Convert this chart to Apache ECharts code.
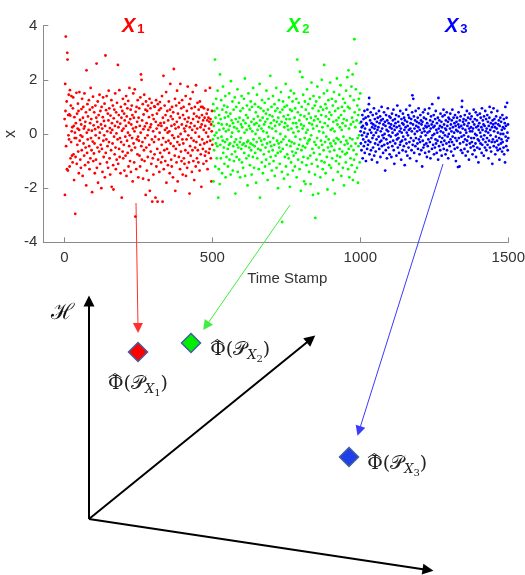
<!DOCTYPE html>
<html><head><meta charset="utf-8">
<script src="https://cdn.jsdelivr.net/npm/echarts@6/dist/echarts.min.js"></script>
<style>html,body{margin:0;padding:0;background:#fff}#c{width:525px;height:575px}</style>
</head><body><div id="c"></div>
<script>
// ---- scatter data: time stamps 1..1500, three segments of 500 samples ----
const x1Values = [
0.55,-2.25,1.85,0.85,3.6,-0.45,0.3,1.2,-1.3,3.0,2.75,-1.35,0.7,-0.05,1.45,-0.2,0.72,-1.2,1.62,0.68,-0.9,1.05,-0.3,1.4,0.1,
-0.8,0.25,-1.05,0.95,1.35,-0.75,0.3,-1.7,0.62,-0.15,0.05,-2.95,-0.85,0.4,-0.15,1.52,-1.1,0.75,-0.4,0.2,1.12,-0.65,0.85,-1.45,0.15,
1.55,-0.25,0.52,-0.95,-0.05,-1.25,0.35,0.92,-0.6,1.3,-0.1,-1.55,0.6,1.0,-0.35,0.2,-0.8,1.5,0.28,-1.15,0.45,-0.5,0.8,-1.9,2.35,
0.05,-0.7,1.1,-0.2,0.65,-1.05,0.15,1.25,-0.45,-1.3,0.9,0.4,-0.9,1.7,-0.15,0.55,-0.6,0.12,-2.15,0.98,-0.28,1.38,-1.0,0.32,-0.72,
0.8,-0.35,-1.45,0.18,1.05,-0.05,-0.95,0.6,2.6,-1.25,0.45,-0.5,1.2,-1.8,0.25,0.7,-0.15,-0.65,1.45,0.05,-1.1,0.85,-0.4,0.35,-2.0,
1.0,-0.55,0.2,-1.4,0.62,1.35,-0.25,-0.85,0.48,-0.05,1.12,-1.6,0.3,2.9,-0.7,0.88,-0.2,1.4,-1.05,0.1,-0.45,0.75,-1.25,0.5,1.6,
-0.3,0.95,-0.9,0.22,-1.5,0.68,0.05,-0.6,1.25,-1.95,0.4,0.15,-0.35,1.05,-1.15,-2.05,0.58,-0.1,0.9,-0.75,0.3,1.5,-0.5,-1.3,0.8,
0.02,-0.95,1.15,0.45,-0.2,2.55,-1.1,0.25,0.7,-0.55,1.62,-0.85,-0.15,0.38,-1.45,1.0,-0.3,0.6,-2.35,0.12,0.85,-0.65,1.3,-0.9,0.2,
-0.4,0.75,-1.35,0.5,1.1,-0.1,-0.8,0.3,1.4,-1.55,0.65,-0.25,0.95,-0.7,0.05,1.22,-1.2,0.42,-0.45,1.7,-0.05,-1.0,0.55,0.9,-1.4,
0.35,-0.6,1.05,-0.15,0.7,-1.75,0.2,1.5,-0.35,0.6,-1.05,0.1,1.65,-0.5,-3.05,0.82,0.25,-1.3,1.0,-0.2,0.45,-0.75,1.25,-0.1,-1.6,
0.6,-0.25,0.95,-0.8,0.3,-1.2,1.35,0.05,2.2,-0.45,2.0,-0.95,0.5,-0.3,1.1,-1.65,0.18,0.72,-0.6,1.45,-1.0,0.28,-0.15,0.9,-2.25,
1.2,-0.5,0.4,-1.35,0.85,-0.05,-0.85,1.05,0.15,-1.7,0.62,-0.4,1.3,-2.1,0.25,0.95,-0.65,0.35,-1.1,1.15,-0.2,-2.5,0.7,-0.9,0.1,
-1.5,0.55,-0.3,1.02,-0.75,1.0,-0.1,-2.35,0.45,1.25,-1.2,0.2,0.75,-0.55,-2.5,1.1,-0.95,0.32,-0.2,0.88,-1.4,0.05,1.18,-0.7,0.4,
0.95,-1.05,0.3,-0.4,1.4,-0.85,-2.5,0.6,-0.15,2.15,-1.3,0.42,-0.6,1.05,0.15,-1.0,0.7,-0.3,1.55,-1.8,0.22,-0.55,0.85,0.05,-1.15,
0.5,-0.25,1.2,-0.7,0.1,-1.45,0.9,1.85,-0.35,0.65,-0.95,0.3,-1.2,1.0,-0.05,0.55,-1.6,0.8,-0.45,2.4,-0.15,0.35,-0.8,1.3,-2.1,
0.2,-0.55,1.05,-1.05,0.45,1.6,-0.3,-1.75,0.75,-0.1,0.25,-0.85,1.15,-0.4,0.6,-1.3,1.85,0.0,-0.65,0.95,-1.0,0.35,1.25,-0.2,-1.5,
0.7,-0.35,1.0,-0.9,0.2,-1.1,0.55,0.1,-0.6,1.4,-1.55,0.3,-0.2,0.85,-1.25,0.45,1.75,-0.7,-0.05,0.6,-1.05,1.1,-2.2,0.25,-0.45,
1.3,-0.8,0.4,-0.15,0.95,-1.4,0.15,-0.6,1.55,0.55,-1.0,-0.25,0.75,-1.7,0.3,1.0,-0.5,0.05,-1.2,1.8,-0.3,0.65,-0.9,0.2,1.15,
-0.6,0.45,-1.05,0.9,-0.1,0.6,-1.35,1.2,-0.4,0.25,-0.75,1.0,-1.95,0.35,0.7,-0.2,1.0,-0.55,0.5,-1.1,0.15,0.95,-0.35,0.6,-0.8,
0.3,1.6,-0.65,0.05,-1.0,0.75,-0.3,0.5,-1.3,0.9,-0.1,0.6,-0.7,0.2,0.45,-0.55,1.7,-0.25,0.55,-0.9,0.35,-1.75,0.1,0.85,-0.4
];
const x2Values = [
0.45,-0.2,1.1,-1.75,0.3,-0.6,0.85,-0.05,2.75,-1.2,0.6,-0.35,1.3,0.05,-0.9,0.95,-0.45,1.6,-0.15,-2.35,0.4,-1.3,0.7,0.15,-1.85,
2.2,-0.4,0.55,-0.9,1.25,-0.1,0.35,-1.45,0.9,-0.25,1.75,-0.7,0.2,-0.5,1.05,-1.1,0.6,-0.3,1.4,-1.6,0.1,0.8,-0.85,0.35,-0.2,
1.0,-0.55,-1.2,0.65,0.15,-0.4,1.5,-0.95,0.3,-0.35,0.75,-1.5,1.95,-0.1,0.5,-0.75,0.05,1.2,-1.35,0.4,-0.45,0.9,-1.0,0.25,-0.3,
1.35,-0.65,-2.2,0.55,-0.2,1.0,-0.85,0.2,-0.4,1.65,-1.4,0.45,-0.5,0.1,1.15,-0.95,0.6,-0.3,-1.6,0.85,-0.15,0.35,-0.55,1.4,-1.05,
0.25,-0.4,0.95,-1.25,0.5,-0.35,1.3,-0.7,0.05,2.05,-1.55,0.4,-0.45,0.7,-0.9,0.15,1.05,-0.3,-1.9,0.6,-0.25,1.5,-0.8,0.3,-0.5,
0.9,-1.15,0.2,-0.35,1.2,-0.6,0.45,-1.5,1.0,0.1,-0.4,-0.85,1.7,-0.2,0.55,-1.25,0.35,-0.45,1.1,-0.7,0.0,0.8,-1.8,0.4,-0.3,
1.45,-0.9,0.15,0.65,-0.55,1.0,-1.3,0.3,-0.15,1.85,-2.35,0.5,-0.6,0.95,-0.25,0.2,-1.05,1.25,-0.4,0.6,-1.45,0.1,0.85,-0.75,0.35,
-0.2,1.15,-1.2,0.45,-0.5,0.75,-0.95,1.6,0.05,-0.35,0.55,-1.7,0.9,-0.1,1.3,-0.65,0.25,-1.1,0.7,-0.3,2.15,-0.85,0.4,-0.45,1.0,
-1.35,0.2,0.65,-0.6,1.4,-0.15,-1.0,0.5,-0.4,1.1,-1.55,0.3,0.85,-0.8,0.1,1.7,-1.25,0.45,-0.25,0.95,-0.7,-2.0,0.6,-0.35,1.25,
-0.5,0.35,-1.1,0.8,0.0,-0.65,1.55,-0.3,0.45,-1.4,-3.25,0.9,-0.55,1.2,-0.2,0.65,-1.65,0.25,1.0,-0.85,0.4,-0.1,1.85,-1.2,0.55,
-0.4,1.05,-0.75,0.3,-1.5,0.7,0.15,-0.9,1.35,-0.25,0.55,-1.95,0.9,-0.45,1.6,-1.05,0.2,-0.3,0.85,-0.65,1.2,-1.35,0.4,0.05,-0.8,
1.5,-0.35,0.6,-1.2,0.95,-0.1,-0.7,0.4,1.3,-1.6,0.25,2.75,-0.55,0.8,-0.95,0.1,1.15,-0.4,0.5,-1.3,2.3,-0.2,0.7,-2.1,0.35,
-0.6,1.0,-1.05,2.1,0.2,-0.45,1.45,-0.85,0.3,-1.75,0.65,-0.15,1.2,-0.5,-1.85,0.9,0.05,-1.15,0.55,1.65,-0.35,0.15,-0.9,1.1,-0.25,
0.75,-1.4,0.4,-0.2,1.3,-0.8,-1.85,0.6,-0.05,1.9,-1.1,0.35,-0.55,0.95,-2.25,0.2,1.4,-0.7,0.5,-0.3,1.05,-1.5,-3.1,0.65,-0.4,
1.2,-0.95,0.3,-0.15,1.75,-1.2,0.55,-2.2,0.85,-0.5,0.1,1.35,-0.75,0.45,-1.6,1.0,-0.25,0.7,-1.0,2.0,-0.4,0.25,-1.3,0.9,0.05,
-0.6,1.5,2.55,-1.05,0.4,-0.3,1.1,-1.45,0.65,-0.1,0.95,-0.85,1.6,-2.05,0.3,-0.5,1.25,-0.2,0.55,-1.15,0.8,-0.65,1.9,-0.35,0.15,
-1.25,0.7,-0.45,1.3,-0.9,0.2,1.05,-1.7,0.45,-0.25,1.55,-0.6,0.1,-2.2,0.85,-0.35,1.2,-1.0,0.5,-0.15,2.05,-0.8,0.35,-1.4,0.95,
-0.2,0.6,-1.1,1.45,-0.55,0.25,-0.85,1.8,-0.3,0.7,-1.55,0.15,1.0,-0.65,0.4,-1.25,1.3,-0.1,0.55,-1.9,0.85,-0.4,1.15,-0.75,0.3,
-1.05,1.6,-0.25,0.5,-0.7,2.1,-0.35,1.0,-1.3,2.35,-0.55,0.2,-1.6,0.95,-0.15,1.4,-0.9,0.35,-0.45,1.75,-1.15,0.6,-0.2,2.2,-1.7,
0.45,-0.6,1.25,-0.95,3.5,0.8,-1.4,0.25,-0.35,1.65,2.6,-0.75,0.5,-1.25,1.05,-0.15,-1.8,0.7,-0.45,1.3,-0.05,0.9,-1.05,0.4,1.5
];
const x3Values = [
0.1,-0.35,0.45,-0.6,0.25,-0.05,0.7,-0.9,0.3,-0.2,0.55,-0.45,0.05,0.85,-0.7,0.2,-0.3,0.6,-1.0,0.4,-0.1,0.35,-0.55,0.9,0.0,
-0.4,0.65,-0.25,1.1,1.33,-0.75,0.15,0.5,-0.3,0.8,-0.6,0.05,0.4,-0.95,0.25,-0.15,0.7,-0.5,0.35,-0.05,0.95,-0.8,0.2,0.55,-0.35,
0.3,-0.65,0.05,0.75,-0.2,0.45,-1.05,0.15,0.6,-0.4,0.25,-0.1,0.85,-0.55,0.4,-0.3,0.65,-0.85,0.1,0.5,-0.25,1.0,-0.45,0.2,-0.05,
0.55,-0.7,0.35,-0.15,0.8,-0.4,0.0,0.45,-1.35,0.3,-0.6,0.7,-0.2,0.15,-0.9,0.5,-0.35,0.95,0.1,-0.5,0.4,-0.05,0.65,-0.75,0.25,
-0.3,0.6,-0.1,0.35,-0.85,0.2,0.75,-0.45,0.05,0.5,-0.25,0.9,-0.6,0.3,-1.1,0.15,0.55,-0.35,0.4,-0.05,0.7,-0.8,0.25,-0.2,1.05,
0.0,-0.5,0.45,-0.15,0.65,-0.7,0.3,0.1,-0.4,0.85,-0.3,0.2,-0.95,0.55,0.05,-0.25,0.4,-0.6,0.75,-0.1,0.35,-0.45,0.6,0.15,-1.15,
0.5,-0.2,0.25,-0.65,0.9,-0.35,0.05,0.45,-0.8,0.3,-0.05,0.7,-0.5,0.15,0.6,-0.3,1.05,-0.9,0.2,0.4,-0.15,0.55,-0.6,0.1,0.8,
1.43,-0.4,0.35,1.3,-0.25,0.65,-0.7,0.2,0.0,0.5,-0.45,0.85,-0.15,0.3,-1.0,0.45,0.1,-0.35,0.6,-0.55,0.25,0.95,-0.2,0.4,-0.75,
0.15,-0.3,0.7,-0.1,0.5,-0.6,0.35,0.05,-1.2,0.45,-0.25,0.8,-0.5,0.2,0.6,-0.4,0.1,0.9,-0.7,0.3,-0.05,0.55,-0.35,0.25,-0.85,
0.4,0.05,-0.45,0.75,-0.2,0.3,-0.65,0.95,0.1,-0.3,0.5,-0.9,0.2,0.65,-0.15,0.35,-0.55,1.1,-0.05,0.45,-0.4,0.25,0.7,-0.75,0.0,
0.3,-0.5,0.55,-0.2,0.85,-0.35,0.15,-0.7,0.4,0.05,-0.25,0.6,-0.95,1.33,0.2,-0.45,0.5,-0.1,0.3,-0.6,0.75,0.1,-0.3,0.45,-0.8,
0.25,-0.15,0.65,-0.4,0.05,0.9,-0.55,0.35,-0.25,0.7,-0.05,0.2,-0.75,0.5,0.15,-0.35,0.8,-0.6,0.3,-0.1,0.45,-0.9,0.6,0.0,-0.3,
0.55,-0.45,0.2,0.75,-0.2,0.35,-0.65,0.1,0.5,-0.3,0.9,-0.1,0.25,-0.8,0.6,-0.4,0.05,0.4,-0.55,0.7,-0.15,0.3,-1.0,0.15,0.45,
-0.25,0.6,-0.5,0.1,-1.22,0.35,0.8,-0.15,0.25,-1.2,0.5,-0.35,0.05,0.65,-0.6,0.3,-0.1,1.0,1.22,-0.7,0.2,0.45,-0.3,0.55,-0.05,
0.35,-0.55,0.7,-0.2,0.15,-0.8,0.5,0.05,-0.4,0.85,-0.25,0.3,-0.65,0.6,-0.1,0.4,-0.95,0.2,0.75,-0.35,0.1,0.55,-0.5,0.25,-0.15,
0.65,-0.3,0.1,-0.75,0.45,0.2,-0.45,0.9,-0.15,0.35,-0.6,0.55,0.0,-0.35,0.8,-0.85,0.25,-0.05,0.5,-0.5,0.7,-0.2,0.3,-1.05,0.15,
-0.25,0.4,-0.55,0.75,0.05,-0.35,0.6,-0.1,0.25,-0.7,0.95,-0.4,0.15,0.5,-0.2,0.35,-0.8,0.65,-0.05,0.3,-0.5,0.85,-0.3,0.1,0.55,
-0.6,0.2,-0.15,0.7,-0.4,0.45,0.05,-0.9,0.3,-0.25,0.6,1.0,-0.5,0.15,-0.05,0.4,-0.65,0.8,-0.3,0.25,-1.1,0.5,-0.2,0.35,0.95,
-0.45,0.1,0.55,-0.3,0.25,-0.75,0.4,-0.1,0.65,-0.5,0.2,-0.25,0.85,-0.6,0.05,0.35,-0.4,0.5,-0.15,-0.95,0.3,-0.55,0.6,0.0,-0.35,
0.45,-0.2,0.15,-0.65,0.7,-0.3,0.25,0.0,-0.5,0.55,-0.75,0.2,0.4,-1.05,1.0,-0.1,0.3,-0.45,0.6,-0.25,1.15,0.05,-0.6,0.35,-0.15
];
const segmentStarts = [0, 500, 1000];
const segmentLength = 500;
const segmentSubscripts = ['1', '2', '3'];
const xTickValues = [0, 500, 1000, 1500];
const yTickValues = [-4, -2, 0, 2, 4];

// ---- lower diagram, in page units of an overlay coordinate system ----
const diagramOrigin = [89, 519];
const diagramAxisEnds = [[89, 301], [311, 339], [428, 570]];
const embeddingPoints = [[138, 352], [191, 343], [349, 457]];
const mappingArrowStarts = [[136, 203], [290, 205], [443, 164]];
const mappingArrowEnds = [[138, 328], [206, 326], [359, 431]];

// ---- styles ----
const segColors = ['#ff0000', '#00ff00', '#0000ff'];
const arrowColors = ['#ff3030', '#40ee40', '#3a3aff'];
const diamondColors = ['#ff0000', '#00ee00', '#1f3fe8'];
const labelLayout = [
  {position: 'bottom', distance: 5, offset: [0, 0], align: 'center'},
  {position: 'right', distance: 9, offset: [0, 6], align: 'left'},
  {position: 'right', distance: 8, offset: [0, 6], align: 'left'}
];

const segmentValues = [x1Values, x2Values, x3Values];
const scatterSeries = segmentValues.map((vals, k) => ({
  type: 'scatter', xAxisIndex: 0, yAxisIndex: 0, silent: true,
  symbolSize: 2.8, itemStyle: {color: segColors[k], opacity: 1},
  data: vals.map((v, i) => [segmentStarts[k] + (i + 1) * segmentLength / vals.length, v])
}));

const ink = '#222';
const phiRich = {
  hat: {fontFamily: 'Noto Sans CJK SC', fontSize: 14, color: ink, lineHeight: 7, align: 'left', padding: [0, 0, 0, 0]},
  f: {fontFamily: 'DejaVu Serif', fontSize: 19, color: ink, verticalAlign: 'bottom', padding: [0, 0, 5, 0]},
  p: {fontFamily: 'DejaVu Serif', fontSize: 19, color: ink, verticalAlign: 'bottom', padding: [0, 0, 5, 0]},
  x: {fontFamily: 'DejaVu Serif', fontSize: 13, color: ink, verticalAlign: 'bottom', padding: [0, 0, 2, 0], fontStyle: 'italic'},
  s: {fontFamily: 'DejaVu Serif', fontSize: 10, color: ink, verticalAlign: 'bottom', padding: [0, 0, 0, 0]}
};

const option = {
  animation: false,
  backgroundColor: '#ffffff',
  title: segmentSubscripts.map((sub, k) => ({
    text: '{x|X}{s|' + sub + '}',
    left: [122, 287, 445][k], top: 16, padding: 0,
    textStyle: {
      rich: {
        x: {fontFamily: 'Liberation Sans', fontStyle: 'italic', fontSize: 20, color: segColors[k], verticalAlign: 'bottom'},
        s: {fontFamily: 'Liberation Sans', fontSize: 13, color: segColors[k], verticalAlign: 'bottom', padding: [0, 0, 0, 2]}
      }
    }
  })),
  grid: [
    {left: 43.3, right: 16.7, top: 25.7, bottom: 332.7, containLabel: false, outerBoundsMode: 'none'},
    {left: 0, right: 0, top: 0, bottom: 0, outerBoundsMode: 'none'}
  ],
  xAxis: [
    {
      gridIndex: 0, type: 'value', min: -71, max: 1500,
      name: 'Time Stamp', nameLocation: 'middle', nameGap: 29, nameMoveOverlap: false,
      nameTextStyle: {fontFamily: 'Liberation Sans', fontSize: 15, color: '#333', padding: [0, 0, 0, 23]},
      axisLine: {onZero: false, lineStyle: {color: '#8a8a8a', width: 1}},
      axisTick: {inside: true, length: 5, customValues: xTickValues, lineStyle: {color: '#8a8a8a'}},
      axisLabel: {customValues: xTickValues, formatter: v => String(v), fontFamily: 'Liberation Sans', fontSize: 15, color: '#333', margin: 8},
      splitLine: {show: false}
    },
    {gridIndex: 1, type: 'value', min: 0, max: 525, show: false}
  ],
  yAxis: [
    {
      gridIndex: 0, type: 'value', min: -4, max: 4, interval: 2,
      name: 'x', nameLocation: 'middle', nameGap: 25, nameRotate: 90, nameMoveOverlap: false,
      nameTextStyle: {fontFamily: 'Liberation Sans', fontSize: 16, color: '#333'},
      axisLine: {show: true, onZero: false, lineStyle: {color: '#8a8a8a', width: 1}},
      axisTick: {show: true, inside: true, length: 5, lineStyle: {color: '#8a8a8a'}},
      axisLabel: {formatter: v => String(v), fontFamily: 'Liberation Sans', fontSize: 15, color: '#333', margin: 6},
      splitLine: {show: false}
    },
    {gridIndex: 1, type: 'value', min: 0, max: 575, inverse: true, show: false}
  ],
  graphic: [{
    type: 'text', left: 51, top: 302,
    style: {text: 'ℋ', font: '22px "DejaVu Serif"', fill: '#111'}
  }],
  series: [
    ...scatterSeries,
    {
      type: 'lines', coordinateSystem: 'cartesian2d', xAxisIndex: 1, yAxisIndex: 1,
      silent: true, symbol: ['none', 'triangle'], symbolSize: [9, 11],
      lineStyle: {color: '#000', width: 2, opacity: 1},
      data: diagramAxisEnds.map(e => ({coords: [diagramOrigin, e]}))
    },
    {
      type: 'lines', coordinateSystem: 'cartesian2d', xAxisIndex: 1, yAxisIndex: 1,
      silent: true, symbol: ['none', 'triangle'], symbolSize: [7, 10],
      data: mappingArrowStarts.map((s, k) => ({
        coords: [s, mappingArrowEnds[k]],
        lineStyle: {color: arrowColors[k], width: 1, opacity: 1}
      }))
    },
    {
      type: 'scatter', xAxisIndex: 1, yAxisIndex: 1, silent: true,
      symbol: 'diamond', symbolSize: 19,
      data: embeddingPoints.map((p, k) => ({
        value: p,
        itemStyle: {color: diamondColors[k], borderColor: '#3f5f9e', borderWidth: 1.5, opacity: 1},
        label: {
          show: true, position: labelLayout[k].position, distance: labelLayout[k].distance,
          offset: labelLayout[k].offset, align: labelLayout[k].align,
          formatter: '{hat|︿}\n{f|Φ(}{p|𝒫}{x|X}{s|' + segmentSubscripts[k] + '}{f|)}',
          rich: phiRich
        }
      }))
    }
  ]
};

const chart = echarts.init(document.getElementById('c'), null, {renderer: 'canvas'});
chart.setOption(option);
</script></body></html>
